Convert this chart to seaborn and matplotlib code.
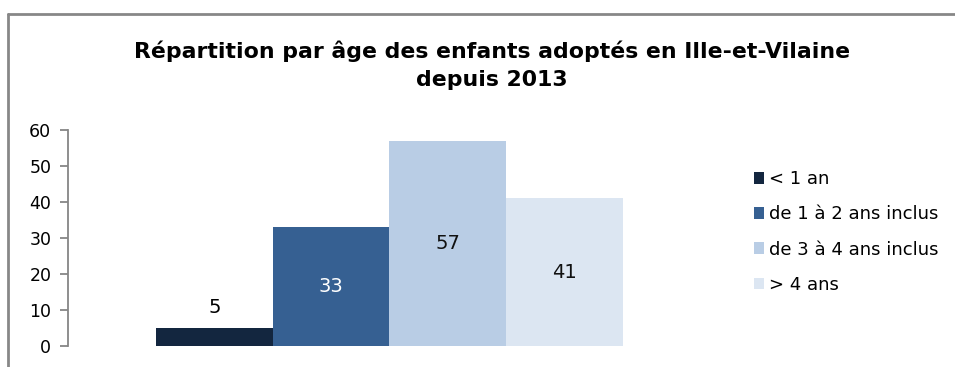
import pandas as pd
import matplotlib.pyplot as plt
import seaborn as sns
from matplotlib.lines import Line2D

# données
ages = ['< 1 an', 'de 1 à 2 ans inclus', 'de 3 à 4 ans inclus', '> 4 ans']
effectifs = [5, 33, 57, 41]
couleurs = ['#13263f', '#366092', '#b9cde5', '#dce6f2']
couleurs_labels = ['black', 'white', '#111111', '#111111']

df = pd.DataFrame({'groupe': [''] * len(ages), 'age': ages, 'effectif': effectifs})

sns.set_style('white')
plt.rcParams['font.family'] = ['DejaVu Sans']
plt.rcParams['text.color'] = 'black'
plt.rcParams['ytick.labelcolor'] = 'black'

fig = plt.figure(figsize=(9.55, 3.67), dpi=100)
ax = fig.add_axes([0.0712, 0.0572, 0.6733, 0.5886])

sns.barplot(data=df, x='groupe', y='effectif', hue='age', palette=couleurs,
            width=0.726, saturation=1, linewidth=0, ax=ax, legend=True)
ax.set_xlim(-0.5, 0.5)
ax.set_ylim(0, 60)
ax.set_yticks(range(0, 61, 10))
ax.set_xlabel('')
ax.set_ylabel('')
ax.set_xticks([])

for s in ['top', 'right', 'bottom']:
    ax.spines[s].set_visible(False)
ax.spines['left'].set_color('#868686')
ax.spines['left'].set_linewidth(1.3)
ax.tick_params(axis='y', left=True, direction='out', length=6, width=1.3,
               color='#868686', labelsize=12.5, labelcolor='black', pad=6)

for cont, val, col in zip(ax.containers, effectifs, couleurs_labels):
    if val < 10:
        ax.bar_label(cont, labels=[str(val)], label_type='edge', padding=8,
                     fontsize=14, color=col)
    else:
        ax.bar_label(cont, labels=[str(val)], label_type='center',
                     fontsize=14, color=col)

handles, labels = ax.get_legend_handles_labels()
ax.get_legend().remove()
leg = fig.legend(handles, labels, loc='center left', bbox_to_anchor=(0.772, 0.368),
                 frameon=False, fontsize=13, handlelength=0.6, handleheight=0.6,
                 handletextpad=0.25, labelspacing=0.95)
for t in leg.get_texts():
    t.set_color('black')

fig.suptitle('Répartition par âge des enfants adoptés en Ille-et-Vilaine\ndepuis 2013',
             x=0.515, y=0.89, fontsize=15.8, fontweight='bold', linespacing=1.5,
             color='black')

# cadre du graphique
fig.add_artist(Line2D([0.0084, 1], [0.962, 0.962], color='#878787', lw=2))
fig.add_artist(Line2D([0.0084, 0.0084], [0, 0.962], color='#878787', lw=2))

fig.savefig('out.png', dpi=100)
